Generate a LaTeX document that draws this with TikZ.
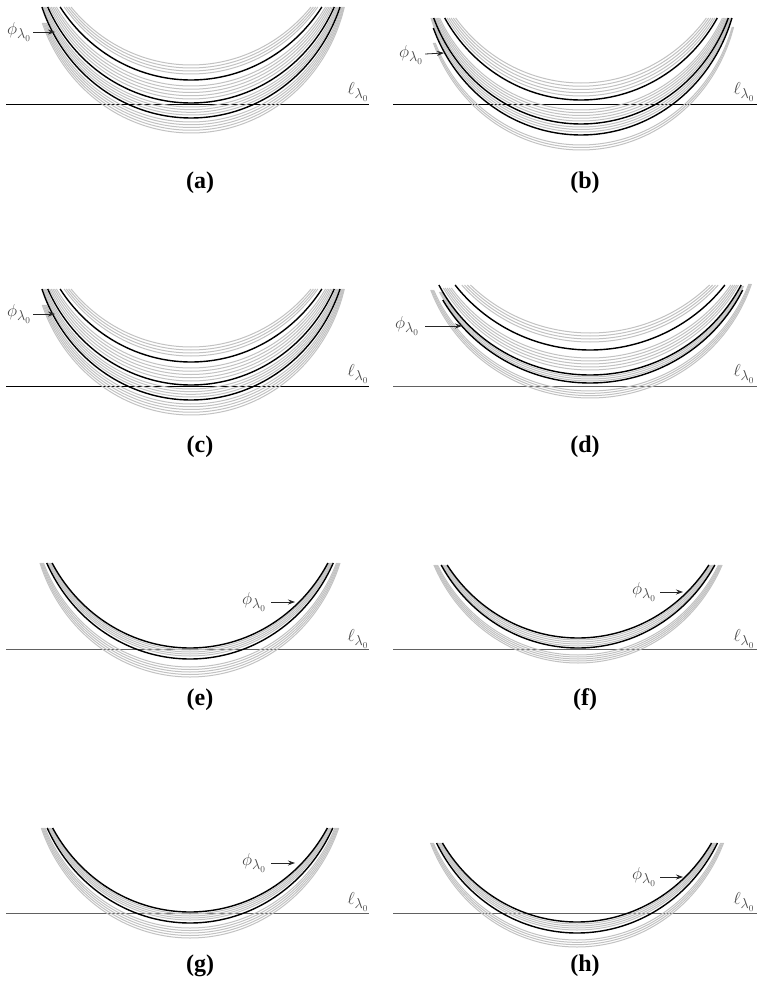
\documentclass[tikz,border=0pt]{standalone}
\usepackage{fontspec}
\setmainfont{Liberation Serif}
\usetikzlibrary{arrows.meta}
\tikzset{
  blk/.style={black, line width=1.4pt},
  grc/.style={black!24, line width=1pt},
  levA/.style={black, line width=0.9pt},
  levB/.style={black!62, line width=1pt},
  plabel/.style={font=\fontsize{24}{28}\selectfont\bfseries, inner sep=0pt},
  mlab/.style={text=black!72, font=\fontsize{19}{22}\selectfont, inner sep=0pt},
  arr/.style={-{Stealth[length=7pt,width=5pt]}, line width=0.8pt, black!85},
}
% one U-shaped curve: #1 style, #2 bottom y, #3 left end y, #4 right end y
\newcommand\UC[4]{%
  \pgfmathsetmacro\phL{acos(max(-1,min(1,(#3-#2+\Ry)/\Ry)))}%
  \pgfmathsetmacro\phR{acos(max(-1,min(1,(#4-#2+\Ry)/\Ry)))}%
  \draw[#1] plot[domain=-\phL:\phR,samples=45,smooth]
    ({\Cx+\Rx*sin(\x)},{#2-\Ry+\Ry*cos(\x)});}
% bundle of gray curves: #1 first bottom, #2 last bottom, #3 count, #4 left end, #5 right end
\newcommand\GB[5]{%
  \foreach \kk in {1,...,#3}{%
    \pgfmathsetmacro\yy{#1+(#2-#1)*(\kk-1)/(#3-1)}%
    \UC{grc}{\yy}{#4}{#5}}}
\begin{document}
\begin{tikzpicture}[x=1pt,y=-1pt]
\useasboundingbox (0,0) rectangle (760,996);
\fill[white] (0,0) rectangle (760,996);

% ---------------- (a)
\begin{scope}
\def\Cx{191}\def\Rx{158}\def\Ry{166}
\coordinate (aL) at (6,104); \coordinate (aR) at (369,104);
\draw[levA] (aL) -- (aR);
\GB{65}{74}{4}{7}{7}
\GB{86}{99}{5}{7}{7}
\GB{107}{115}{4}{7}{7}
\GB{122}{133}{5}{23}{7}
\UC{blk}{80}{7}{7}
\UC{blk}{103}{7}{7}
\UC{blk}{118}{7}{7}
\node[mlab] (aphi) at (19,32) {$\phi_{\lambda_0}$};
\coordinate (atip) at (55,32);
\draw[arr] (aphi.east) ++(2,0) -- (atip);
\node[mlab] (aell) at (358,92) {$\ell_{\lambda_0}$};
\node[plabel] (alab) at (200,183) {(a)};
\end{scope}

% ---------------- (b)
\begin{scope}
\def\Cx{581}\def\Rx{158}\def\Ry{166}
\coordinate (bL) at (393,104); \coordinate (bR) at (757,104);
\draw[levA] (bL) -- (bR);
\GB{83}{96}{5}{18}{18}
\GB{110}{121}{5}{18}{18}
\GB{127}{132}{3}{18}{18}
\GB{145}{150}{3}{43}{27}
\UC{blk}{100}{18}{18}
\UC{blk}{124}{18}{18}
\UC{blk}{135}{28}{18}
\node[mlab] (bphi) at (411,55) {$\phi_{\lambda_0}$};
\coordinate (btip) at (444,53);
\draw[arr] (bphi.east) ++(2,-1) -- (btip);
\node[mlab] (bell) at (744,92) {$\ell_{\lambda_0}$};
\node[plabel] (blab) at (585,183) {(b)};
\end{scope}

% ---------------- (c)
\begin{scope}
\def\Cx{191}\def\Rx{158}\def\Ry{166}
\coordinate (cL) at (6,386); \coordinate (cR) at (369,386);
\draw[levA] (cL) -- (cR);
\GB{347}{356}{4}{289}{289}
\GB{368}{381}{5}{289}{289}
\GB{389}{397}{4}{289}{289}
\GB{404}{415}{5}{305}{289}
\UC{blk}{362}{289}{289}
\UC{blk}{385}{289}{289}
\UC{blk}{400}{289}{289}
\node[mlab] (cphi) at (19,314) {$\phi_{\lambda_0}$};
\coordinate (ctip) at (55,314);
\draw[arr] (cphi.east) ++(2,0) -- (ctip);
\node[mlab] (cell) at (358,374) {$\ell_{\lambda_0}$};
\node[plabel] (clab) at (200,447) {(c)};
\end{scope}

% ---------------- (d)
\begin{scope}
\def\Cx{590}\def\Rx{170}\def\Ry{166}
\coordinate (dL) at (393,386); \coordinate (dR) at (757,386);
\draw[levB] (dL) -- (dR);
\GB{333}{342}{4}{285}{285}
\GB{358}{370}{5}{288}{285}
\GB{377}{381}{3}{292}{286}
\GB{391}{398}{4}{290}{284}
\UC{blk}{350}{285}{285}
\UC{blk}{375}{285}{285}
\UC{blk}{383}{300}{290}
\node[mlab] (dphi) at (407,326) {$\phi_{\lambda_0}$};
\coordinate (dtip) at (462,326);
\draw[arr] (dphi.east) ++(6,0) -- (dtip);
\node[mlab] (dell) at (744,374) {$\ell_{\lambda_0}$};
\node[plabel] (dlab) at (585,447) {(d)};
\end{scope}

% ---------------- (e)
\begin{scope}
\def\Cx{190}\def\Rx{158}\def\Ry{166}
\coordinate (eL) at (6,649); \coordinate (eR) at (369,649);
\draw[levB] (eL) -- (eR);
\GB{650}{656}{4}{563}{563}
\GB{667}{677}{5}{563}{563}
\UC{blk}{648}{563}{563}
\UC{blk}{659}{563}{563}
\node[mlab] (ephi) at (254,602) {$\phi_{\lambda_0}$};
\coordinate (etip) at (295,602);
\draw[arr] (ephi.east) ++(5,0) -- (etip);
\node[mlab] (eell) at (358,639) {$\ell_{\lambda_0}$};
\node[plabel] (elab) at (200,700) {(e)};
\end{scope}

% ---------------- (f)
\begin{scope}
\def\Cx{578}\def\Rx{158}\def\Ry{166}
\coordinate (fL) at (393,649); \coordinate (fR) at (757,649);
\draw[levB] (fL) -- (fR);
\GB{640}{646}{4}{565}{565}
\GB{655}{663}{5}{565}{565}
\UC{blk}{638}{565}{565}
\UC{blk}{648}{565}{565}
\node[mlab] (fphi) at (644,592) {$\phi_{\lambda_0}$};
\coordinate (ftip) at (683,592);
\draw[arr] (fphi.east) ++(4,0) -- (ftip);
\node[mlab] (fell) at (744,639) {$\ell_{\lambda_0}$};
\node[plabel] (flab) at (585,700) {(f)};
\end{scope}

% ---------------- (g)
\begin{scope}
\def\Cx{190}\def\Rx{158}\def\Ry{166}
\coordinate (gL) at (6,913); \coordinate (gR) at (369,913);
\draw[levB] (gL) -- (gR);
\GB{914}{920}{4}{828}{828}
\GB{928}{938}{5}{828}{828}
\UC{blk}{912}{828}{828}
\UC{blk}{923}{828}{828}
\node[mlab] (gphi) at (254,863) {$\phi_{\lambda_0}$};
\coordinate (gtip) at (295,863);
\draw[arr] (gphi.east) ++(5,0) -- (gtip);
\node[mlab] (gell) at (358,902) {$\ell_{\lambda_0}$};
\node[plabel] (glab) at (200,966) {(g)};
\end{scope}

% ---------------- (h)
\begin{scope}
\def\Cx{577}\def\Rx{158}\def\Ry{166}
\coordinate (hL) at (393,913); \coordinate (hR) at (757,913);
\draw[levB] (hL) -- (hR);
\GB{924}{930}{4}{843}{843}
\GB{940}{947}{4}{843}{843}
\UC{blk}{922}{843}{843}
\UC{blk}{933}{843}{843}
\node[mlab] (hphi) at (644,877) {$\phi_{\lambda_0}$};
\coordinate (htip) at (683,877);
\draw[arr] (hphi.east) ++(4,0) -- (htip);
\node[mlab] (hell) at (744,902) {$\ell_{\lambda_0}$};
\node[plabel] (hlab) at (585,966) {(h)};
\end{scope}
\end{tikzpicture}
\end{document}
